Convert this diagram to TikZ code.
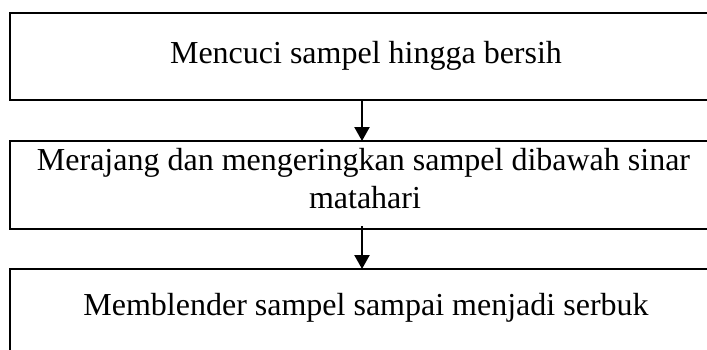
\documentclass[tikz,border=0pt]{standalone}
\usepackage{fontspec}
\setmainfont{Liberation Serif}
\usetikzlibrary{arrows.meta}
\tikzset{
  stepbox/.style={draw=black, line width=2pt, minimum width=704pt, minimum height=87pt, inner sep=0pt, outer sep=0pt},
  steptext/.style={anchor=base, inner sep=0pt, font=\fontsize{32}{37.6}\selectfont},
  flowarrow/.style={line width=2.3pt, -{Triangle[width=15pt,length=14pt]}}
}
\begin{document}
\begin{tikzpicture}[x=1pt,y=-1pt]
\useasboundingbox (0,0) rectangle (707,349);
\clip (0,0) rectangle (707,349);
\node[stepbox] (b1) at (362,56.5) {};
\node[stepbox, minimum height=88pt] (b2) at (362,185) {};
\node[stepbox, minimum height=88pt] (b3) at (362,313) {};
\node[steptext] (t1) at (366,63.3) {Mencuci sampel hingga bersih};
\node[steptext] (t2a) at (363.5,170.7) {Merajang dan mengeringkan sampel dibawah sinar};
\node[steptext] (t2b) at (365,208.3) {matahari};
\node[steptext] (t3) at (366,315) {Memblender sampel sampai menjadi serbuk};
\draw[flowarrow] (b1.south) -- (b2.north);
\draw[flowarrow] ([yshift=3pt]b2.south) -- (b3.north);
\end{tikzpicture}
\end{document}
